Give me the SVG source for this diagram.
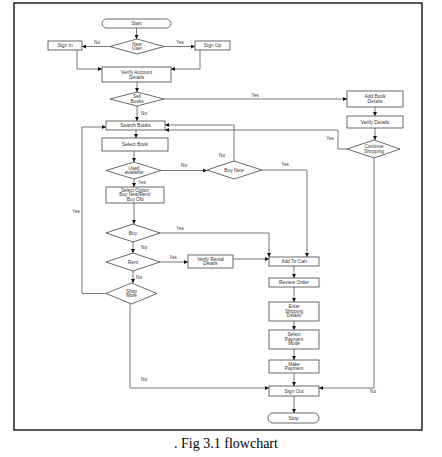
<svg xmlns="http://www.w3.org/2000/svg" width="442" height="457" viewBox="0 0 442 457">
<defs>
<marker id="ah" markerUnits="userSpaceOnUse" markerWidth="4" markerHeight="4" refX="4" refY="2" orient="auto">
<path d="M0,0 L4,2 L0,4 Z" fill="#111"/>
</marker>
<style>
.n{fill:#fff;stroke:#444;stroke-width:0.8}
.t{font-family:"Liberation Sans",Arial,sans-serif;font-size:4.9px;fill:#333;text-anchor:middle}
.s{font-family:"Liberation Sans",Arial,sans-serif;font-size:4.7px;fill:#333;text-anchor:middle}
.l{font-family:"Liberation Sans",Arial,sans-serif;font-size:4.6px;fill:#333;text-anchor:middle}
.c{fill:none;stroke:#555;stroke-width:0.8;stroke-linejoin:round;marker-end:url(#ah)}
</style>
</defs>
<rect x="0" y="0" width="442" height="457" fill="#fff"/>
<rect x="14" y="3" width="408" height="427" fill="#fff" stroke="#000" stroke-width="1.3"/>
<text x="226" y="448" font-family="'Liberation Serif','Times New Roman',serif" font-size="14" text-anchor="middle" fill="#000">. Fig 3.1 flowchart</text>

<g id="connectors">
<polyline class="c" points="136.5,28 136.5,39"/>
<polyline class="c" points="110,46.5 82,46.5"/>
<polyline class="c" points="164,46.5 195,46.5"/>
<polyline class="c" points="77,50 77,69 102,69"/>
<polyline class="c" points="200,50 200,69 171,69"/>
<polyline class="c" points="137,82 137,92"/>
<polyline class="c" points="164,99 347,99"/>
<polyline class="c" points="137,106 137,121"/>
<polyline class="c" points="375,107 375,116"/>
<polyline class="c" points="375,128 375,140"/>
<polyline class="c" points="347,149 338,149 338,130 165,130"/>
<polyline class="c" points="374,158 374,388 319,388"/>
<polyline class="c" points="136,130 136,138"/>
<polyline class="c" points="134,151 134,162"/>
<polyline class="c" points="161,170.5 207,170.5"/>
<polyline class="c" points="234,161 234,125 165,125"/>
<polyline class="c" points="262,170 307,170 307,257"/>
<polyline class="c" points="134,179 134,187"/>
<polyline class="c" points="134,203 134,224"/>
<polyline class="c" points="160,233 269,233 269,257"/>
<polyline class="c" points="133,242 133,253"/>
<polyline class="c" points="160,262 188,262"/>
<polyline class="c" points="233,259 269,259"/>
<polyline class="c" points="133,271 133,283"/>
<polyline class="c" points="106,293.5 82,293.5 82,127 106,127"/>
<polyline class="c" points="130,304 130,388 269,388"/>
<polyline class="c" points="294,266 294,278"/>
<polyline class="c" points="294,287 294,302"/>
<polyline class="c" points="294,321 294,330"/>
<polyline class="c" points="294,349 294,360"/>
<polyline class="c" points="294,373 294,386"/>
<polyline class="c" points="294,396 294,413"/>
<text class="l" x="97" y="44">No</text>
<text class="l" x="180" y="44">Yes</text>
<text class="l" x="255" y="96.5">Yes</text>
<text class="l" x="144" y="115">No</text>
<text class="l" x="330" y="140">Yes</text>
<text class="l" x="373" y="393">No</text>
<text class="l" x="184" y="167">No</text>
<text class="l" x="222" y="157">No</text>
<text class="l" x="285" y="166">Yes</text>
<text class="l" x="142" y="184">Yes</text>
<text class="l" x="180" y="230">Yes</text>
<text class="l" x="144" y="249">No</text>
<text class="l" x="173" y="259">Yes</text>
<text class="l" x="139" y="279">No</text>
<text class="l" x="76" y="213">Yes</text>
<text class="l" x="144" y="381">No</text>
</g>

<g id="start"><rect class="n" x="102" y="19" width="69" height="9" rx="4.5"/><text class="t" x="136.5" y="25.3">Start</text></g>
<g id="new-user"><polygon class="n" points="137,39 164,46.5 137,54 110,46.5"/><text class="s" x="137" y="45.5">New</text><text class="s" x="137" y="50.3">User</text></g>
<g id="sign-in"><rect class="n" x="48" y="41" width="34" height="9"/><text class="t" x="65" y="47.3">Sign In</text></g>
<g id="sign-up"><rect class="n" x="195" y="41" width="35" height="9"/><text class="t" x="212.5" y="47.3">Sign Up</text></g>
<g id="verify-account"><rect class="n" x="102" y="67" width="69" height="15"/><text class="t" x="136.5" y="73.5">Verify Account</text><text class="t" x="136.5" y="78.6">Details</text></g>
<g id="sell-books"><polygon class="n" points="137,92 164,99 137,106 110,99"/><text class="s" x="137" y="98">Sell</text><text class="s" x="137" y="102.8">Books</text></g>
<g id="add-book"><rect class="n" x="347" y="91" width="56" height="16"/><text class="t" x="375" y="98">Add Book</text><text class="t" x="375" y="103.2">Details</text></g>
<g id="verify-details"><rect class="n" x="347" y="116" width="56" height="12"/><text class="t" x="375" y="123.6">Verify Details</text></g>
<g id="continue-shopping"><polygon class="n" points="374,140 400,149 374,158 347,149"/><text class="s" x="374" y="148">Continue</text><text class="s" x="374" y="152.8">Shopping</text></g>
<g id="search-books"><rect class="n" x="106" y="121" width="59" height="9"/><text class="t" x="135.5" y="127.3">Search Books</text></g>
<g id="select-book"><rect class="n" x="102" y="138" width="66" height="13"/><text class="t" x="135" y="146">Select Book</text></g>
<g id="used-available"><polygon class="n" points="134,162 161,170.5 134,179 106,170.5"/><text class="s" x="134" y="169.5">Used</text><text class="s" x="134" y="174.3">available</text></g>
<g id="buy-new"><polygon class="n" points="234,161 262,170 234,179 207,170"/><text class="t" x="234" y="171.7">Buy New</text></g>
<g id="select-option"><rect class="n" x="106" y="187" width="58" height="16"/><text class="s" x="135" y="192">Select Option</text><text class="s" x="135" y="196.3">Buy New/Rent/</text><text class="s" x="135" y="200.6">Buy Old</text></g>
<g id="buy"><polygon class="n" points="133,224 160,233 133,242 106,233"/><text class="t" x="133" y="234.7">Buy</text></g>
<g id="rent"><polygon class="n" points="133,253 160,262 133,271 106,262"/><text class="t" x="133" y="263.7">Rent</text></g>
<g id="verify-rental"><rect class="n" x="188" y="255" width="45" height="13"/><text class="s" x="210.5" y="260.5">Verify Rental</text><text class="s" x="210.5" y="265">Details</text></g>
<g id="shop-more"><polygon class="n" points="131.5,283 157,293.5 131.5,304 106,293.5"/><text class="s" x="131.5" y="292.5">Shop</text><text class="s" x="131.5" y="297">More</text></g>
<g id="add-to-cart"><rect class="n" x="269" y="257" width="50" height="9"/><text class="t" x="294" y="263.3">Add To Cart</text></g>
<g id="review-order"><rect class="n" x="269" y="278" width="50" height="9"/><text class="t" x="294" y="284.3">Review Order</text></g>
<g id="enter-shipping"><rect class="n" x="269" y="302" width="50" height="19"/><text class="s" x="294" y="308.3">Enter</text><text class="s" x="294" y="312.8">Shipping</text><text class="s" x="294" y="317.3">Details</text></g>
<g id="select-payment"><rect class="n" x="269" y="330" width="50" height="19"/><text class="s" x="294" y="336.3">Select</text><text class="s" x="294" y="340.8">Payment</text><text class="s" x="294" y="345.3">Mode</text></g>
<g id="make-payment"><rect class="n" x="269" y="360" width="50" height="13"/><text class="s" x="294" y="365.5">Make</text><text class="s" x="294" y="370">Payment</text></g>
<g id="sign-out"><rect class="n" x="269" y="386" width="50" height="10"/><text class="t" x="294" y="392.7">Sign Out</text></g>
<g id="stop"><rect class="n" x="268" y="413" width="51" height="10" rx="5"/><text class="t" x="293.5" y="419.7">Stop</text></g>
</svg>
